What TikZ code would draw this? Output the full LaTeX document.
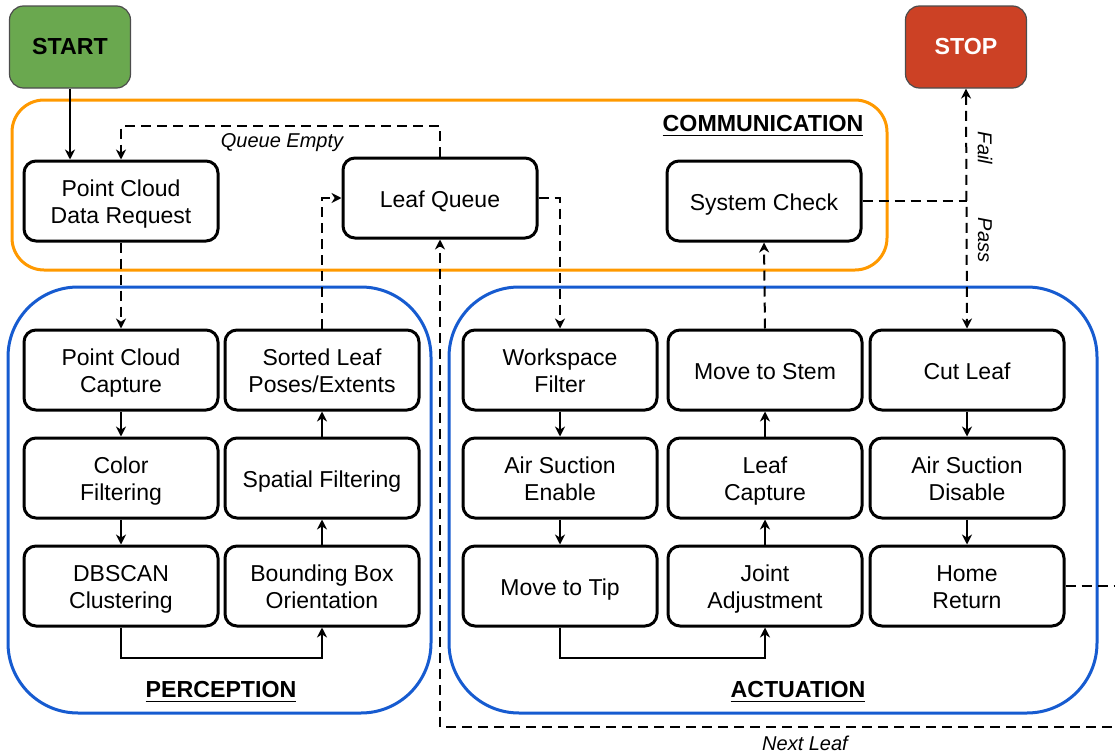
\documentclass[tikz,border=0pt]{standalone}
\usepackage{fontspec}
\setmainfont{Liberation Sans}
\usetikzlibrary{arrows.meta}
\definecolor{commorange}{RGB}{255,153,0}
\definecolor{groupblue}{RGB}{22,91,208}
\definecolor{startgreen}{RGB}{106,168,79}
\definecolor{stopred}{RGB}{204,65,37}
% centred block of lines, set a little low so the capitals sit mid-box
\newcommand\steplines[1]{\raisebox{-1.9pt}[\height][\depth]{\begin{tabular}{@{}c@{}}#1\end{tabular}}}

\begin{document}
\begin{tikzpicture}[x=0.5pt,y=-0.5pt,
  proc/.style={draw, line width=1.5pt, rounded corners=6pt, minimum width=97pt,
    minimum height=40pt, inner sep=0pt,
    font=\fontsize{11.5}{13.4}\selectfont},
  term/.style={draw=black!70, line width=0.6pt, rounded corners=7pt,
    minimum width=60.5pt, minimum height=41pt,
    font=\fontsize{11.6}{13}\selectfont\bfseries},
  group/.style={line width=1.5pt, rounded corners=35pt},
  flow/.style={line width=1pt, -{Stealth[length=5pt,width=5pt,inset=1.6pt]}},
  link/.style={flow, dash pattern=on 5pt off 3pt},
  plainlink/.style={line width=1pt, dash pattern=on 5pt off 3pt},
  grouplabel/.style={font=\fontsize{11.6}{13.5}\selectfont\bfseries},
  note/.style={font=\fontsize{10}{12}\selectfont\itshape}
]
\useasboundingbox (0,0) rectangle (1115,755);

% module frames
\draw[group, draw=commorange, rounded corners=16pt] (12,100) rectangle (887,270);
\draw[group, draw=groupblue] (8,287) rectangle (431,713);
\draw[group, draw=groupblue] (449,287) rectangle (1097,713);

\node[grouplabel] (commlbl) at (763,126) {\underline{COMMUNICATION}};
\node[grouplabel] (perclbl) at (221,692) {\underline{PERCEPTION}};
\node[grouplabel] (actlbl) at (798,692) {\underline{ACTUATION}};

% terminals
\node[term, fill=startgreen, text=black] (start) at (70,47) {START};
\node[term, fill=stopred, text=white] (stop) at (966,47) {STOP};

% communication
\node[proc] (pcdr) at (121,201) {\steplines{Point Cloud\\Data Request}};
\node[proc] (lq) at (440,198) {\steplines{Leaf Queue}};
\node[proc] (sc) at (764,201) {\steplines{System Check}};

% perception
\node[proc] (pcc) at (121,370) {\steplines{Point Cloud\\Capture}};
\node[proc] (cf) at (121,478) {\steplines{Color\\Filtering}};
\node[proc] (db) at (121,586) {\steplines{DBSCAN\\Clustering}};
\node[proc] (sl) at (322,370) {\steplines{Sorted Leaf\\Poses/Extents}};
\node[proc] (sf) at (322,478) {\steplines{Spatial Filtering}};
\node[proc] (bb) at (322,586) {\steplines{Bounding Box\\Orientation}};

% actuation
\node[proc] (wf) at (560,370) {\steplines{Workspace\\Filter}};
\node[proc] (ase) at (560,478) {\steplines{Air Suction\\Enable}};
\node[proc] (mtt) at (560,586) {\steplines{Move to Tip}};
\node[proc] (ms) at (765,370) {\steplines{Move to Stem}};
\node[proc] (lc) at (765,478) {\steplines{Leaf\\Capture}};
\node[proc] (ja) at (765,586) {\steplines{Joint\\Adjustment}};
\node[proc] (cl) at (967,370) {\steplines{Cut Leaf}};
\node[proc] (asd) at (967,478) {\steplines{Air Suction\\Disable}};
\node[proc] (hr) at (967,586) {\steplines{Home\\Return}};

\coordinate (qtop) at (0,126);
\coordinate (loopright) at (1130,0);
\coordinate (loopbottom) at (0,727);

% solid flow
\draw[flow] (start.south) -- (start.south |- pcdr.north);
\draw[flow] (pcc) -- (cf);
\draw[flow] (cf) -- (db);
\draw[flow] (db.south) -- ++(0,30) -| (bb.south);
\draw[flow] (bb) -- (sf);
\draw[flow] (sf) -- (sl);
\draw[flow] (wf) -- (ase);
\draw[flow] (ase) -- (mtt);
\draw[flow] (mtt.south) -- ++(0,30) -| (ja.south);
\draw[flow] (ja) -- (lc);
\draw[flow] (lc) -- (ms);
\draw[flow] (cl) -- (asd);
\draw[flow] (asd) -- (hr);

% dashed hand-overs between modules
\draw[link] (lq.north) |- (pcdr.north |- qtop) -- (pcdr.north);
\node[note] (qelbl) at (282,143) {Queue Empty};
\draw[link] (pcdr.south) -- (pcc.north);
\draw[link] (sl.north) |- (lq.west);
\draw[link] (lq.east) -| (wf.north);
\draw[link] (ms.north) -- (sc.south);
\coordinate (split) at (cl.north |- sc.east);
\draw[plainlink] (sc.east) -- (split);
\draw[link, {Stealth[length=5pt,width=5pt,inset=1.6pt]}-{Stealth[length=5pt,width=5pt,inset=1.6pt]}] (stop.south) -- (cl.north);
\node[note, rotate=-90] (faillbl) at (985,148) {Fail};
\node[note, rotate=-90] (passlbl) at (985,240) {Pass};

% next-leaf return loop
\begin{scope}
\clip (0,0) rectangle (1115,755);
\draw[link] (hr.east) -- (hr.east -| loopright) |- (loopbottom -| lq.south) -- (lq.south);
\end{scope}
\node[note] (nllbl) at (805,743) {Next Leaf};
\end{tikzpicture}
\end{document}
